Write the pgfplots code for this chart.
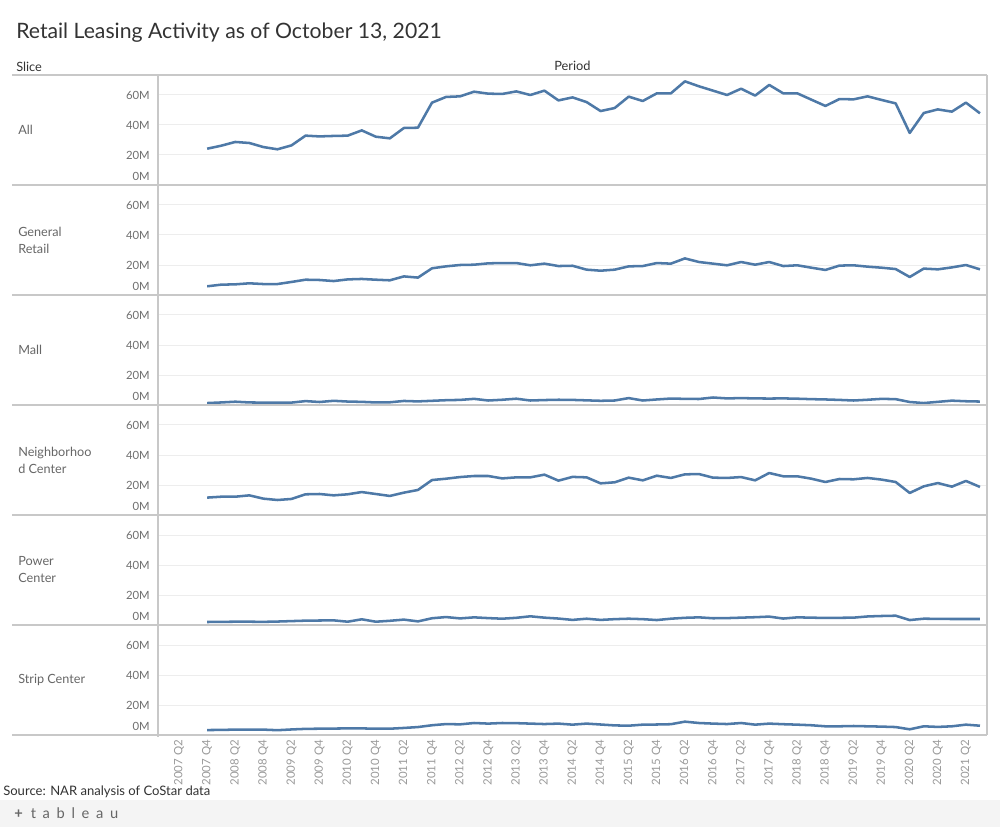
\documentclass[border=0pt]{standalone}
\usepackage{pgfplots}
\pgfplotsset{compat=1.18}
\usepackage{pgfplotstable}
\usepackage{fontspec}
\setmainfont{Lato}
\definecolor{lineblue}{HTML}{4E79A7}
\definecolor{bordergray}{HTML}{C8C8C8}
\definecolor{gridgray}{HTML}{EDEDED}
\definecolor{ticktext}{HTML}{6E6E6E}
\definecolor{xticktext}{HTML}{999999}
\definecolor{labeltext}{HTML}{666666}
\definecolor{titletext}{HTML}{333333}
\definecolor{footerfill}{HTML}{F4F4F4}

\pgfplotstableread{
i all gr mall nc pc sc
2 24.2 5.8 1.3 11.6 2.0 3.3
3 26.2 6.9 1.7 12.2 2.1 3.4
4 28.7 7.1 2.2 12.2 2.2 3.6
5 28.0 7.8 1.7 13.1 2.2 3.6
6 25.3 7.3 1.6 10.9 2.1 3.6
7 23.8 7.3 1.6 10.0 2.3 3.2
8 26.4 8.7 1.6 10.7 2.6 3.7
9 32.9 10.2 2.6 13.8 2.9 4.1
10 32.4 10.0 2.0 14.0 3.0 4.2
11 32.7 9.3 2.8 13.1 3.1 4.3
12 32.9 10.4 2.3 13.8 2.2 4.4
13 36.4 10.7 2.1 15.3 3.8 4.4
14 32.2 10.2 1.7 14.0 2.2 4.2
15 31.1 9.8 1.8 12.7 2.8 4.2
16 38.0 12.4 2.7 14.9 3.6 4.7
17 38.2 11.6 2.4 16.7 2.4 5.3
18 54.9 17.8 2.8 23.3 4.5 6.5
19 58.7 19.1 3.2 24.2 5.3 7.3
20 59.1 20.0 3.4 25.3 4.4 7.1
21 62.2 20.2 4.1 26.0 5.1 8.0
22 60.9 21.1 3.0 26.0 4.6 7.6
23 60.7 21.3 3.5 24.4 4.2 8.0
24 62.4 21.3 4.2 25.1 4.8 7.9
25 60.0 19.8 3.0 25.1 5.8 7.6
26 62.9 20.9 3.3 26.9 4.9 7.3
27 56.4 19.3 3.5 22.9 4.3 7.6
28 58.4 19.5 3.4 25.4 3.4 6.9
29 55.3 16.9 3.1 25.1 4.2 7.6
30 49.3 16.2 2.8 21.1 3.4 7.0
31 51.3 16.9 3.0 21.8 3.9 6.4
32 58.9 19.1 4.6 24.9 4.2 6.2
33 56.0 19.3 3.0 23.1 3.9 6.9
34 61.1 21.3 3.7 26.2 3.3 7.0
35 61.1 20.9 4.3 24.7 4.2 7.2
36 69.1 24.4 4.1 27.1 4.8 8.9
37 65.8 22.0 4.0 27.3 5.1 8.0
38 62.9 20.9 5.0 24.9 4.5 7.6
39 60.0 19.8 4.4 24.7 4.6 7.3
40 64.2 22.0 4.6 25.3 4.9 8.0
41 59.6 20.2 4.4 23.1 5.2 6.9
42 66.7 22.0 4.3 28.0 5.6 7.6
43 61.1 19.3 4.4 25.8 4.3 7.2
44 61.1 19.8 4.2 25.8 5.1 6.9
45 56.9 18.2 3.9 24.2 4.9 6.5
46 52.7 16.7 3.7 22.0 4.7 5.8
47 57.3 19.6 3.4 24.0 4.8 5.8
48 57.1 19.8 3.0 23.8 4.9 6.0
49 59.1 18.9 3.5 24.7 5.7 5.8
50 56.7 18.2 4.1 23.6 6.0 5.6
51 54.4 17.3 3.9 22.0 6.2 5.3
52 34.7 12.0 2.0 14.7 3.3 3.8
53 48.0 17.6 1.3 19.1 4.2 5.8
54 50.4 17.1 2.1 21.3 4.1 5.4
55 48.9 18.4 2.9 18.9 4.0 5.8
56 54.9 20.0 2.5 22.7 4.0 6.9
57 47.8 17.1 2.3 18.7 4.0 6.2
}\data

\pgfplotsset{
  panel/.style={
    anchor=north west,
    at={(118.5pt,{-0.75pt*#1})},
    width=621.75pt, height=82.5pt, scale only axis,
    xmin=-1.5, xmax=57.5, ymin=0, ymax=73.333,
    axis line style={draw=none},
    major tick length=0pt,
    xtick=\empty,
    ytick={20,40,60}, yticklabels={20M,40M,60M},
    extra y ticks={0}, extra y tick labels={0M},
    extra y tick style={grid=none, yticklabel style={yshift=6.75pt}},
    ymajorgrids,
    grid style={gridgray, line width=0.75pt},
    yticklabel style={font=\fontsize{8.5}{10}\selectfont, text=ticktext, inner sep=0pt, xshift=-6pt},
  },
  dline/.style={lineblue, line width=1.9pt, line join=round}
}

\begin{document}
\begin{tikzpicture}[x=0.75pt,y=0.75pt]
\path[use as bounding box] (0,0) rectangle (1000,-827);
\fill[footerfill] (0,-800) rectangle (1000,-827);

\node[anchor=west, inner sep=0pt, font=\fontsize{15.9}{18}\selectfont, text=titletext] at (16,-33) {Retail Leasing Activity as of October 13, 2021};
\node[anchor=west, inner sep=0pt, font=\fontsize{9.6}{11}\selectfont, text=titletext] at (16,-67) {Slice};
\node[inner sep=0pt, font=\fontsize{9.6}{11}\selectfont, text=titletext] at (572.5,-66) {Period};

\begin{axis}[panel=75]
\addplot[dline] table[x=i,y=all] {\data};
\end{axis}
\begin{axis}[panel=185]
\addplot[dline] table[x=i,y=gr] {\data};
\end{axis}
\begin{axis}[panel=295]
\addplot[dline] table[x=i,y=mall] {\data};
\end{axis}
\begin{axis}[panel=405]
\addplot[dline] table[x=i,y=nc] {\data};
\end{axis}
\begin{axis}[panel=515]
\addplot[dline] table[x=i,y=pc] {\data};
\end{axis}
\begin{axis}[panel=625,
  xtick={0,2,...,56},
  xticklabels={2007 Q2,2007 Q4,2008 Q2,2008 Q4,2009 Q2,2009 Q4,2010 Q2,2010 Q4,2011 Q2,2011 Q4,2012 Q2,2012 Q4,2013 Q2,2013 Q4,2014 Q2,2014 Q4,2015 Q2,2015 Q4,2016 Q2,2016 Q4,2017 Q2,2017 Q4,2018 Q2,2018 Q4,2019 Q2,2019 Q4,2020 Q2,2020 Q4,2021 Q2},
  xticklabel style={rotate=90, anchor=east, inner xsep=3.5pt, inner ysep=0pt, font=\fontsize{8.6}{10}\selectfont, text=xticktext}]
\addplot[dline] table[x=i,y=sc] {\data};
\end{axis}

% borders
\foreach \yy in {75,185,295,405,515,625,735} {
  \draw[bordergray, line width=0.9pt] (12,-\yy) -- (987,-\yy);
}
\draw[bordergray, line width=0.9pt] (158,-75) -- (158,-737);
\draw[bordergray, line width=0.9pt] (987,-75) -- (987,-735);

% row labels
\begin{scope}[every node/.style={anchor=west, inner sep=0pt, align=left, font=\fontsize{9.5}{12.75}\selectfont, text=labeltext}]
\node at (18,-130) {All};
\node at (18,-240) {General\\Retail};
\node at (18,-350) {Mall};
\node at (18,-460) {Neighborhoo\\d Center};
\node at (18,-570) {Power\\Center};
\node at (18,-680) {Strip Center};
\end{scope}

\node[anchor=west, inner sep=0pt, font=\fontsize{9.8}{11}\selectfont, text=titletext] at (3,-792) {Source: NAR analysis of CoStar data};
\node[anchor=west, inner sep=0pt, font=\fontsize{11}{12}\selectfont, text=labeltext] at (14,-813) {\textbf{+}\hspace{6pt}t\hspace{5pt}a\hspace{5pt}b\hspace{5pt}l\hspace{5pt}e\hspace{5pt}a\hspace{5pt}u};
\end{tikzpicture}
\end{document}
